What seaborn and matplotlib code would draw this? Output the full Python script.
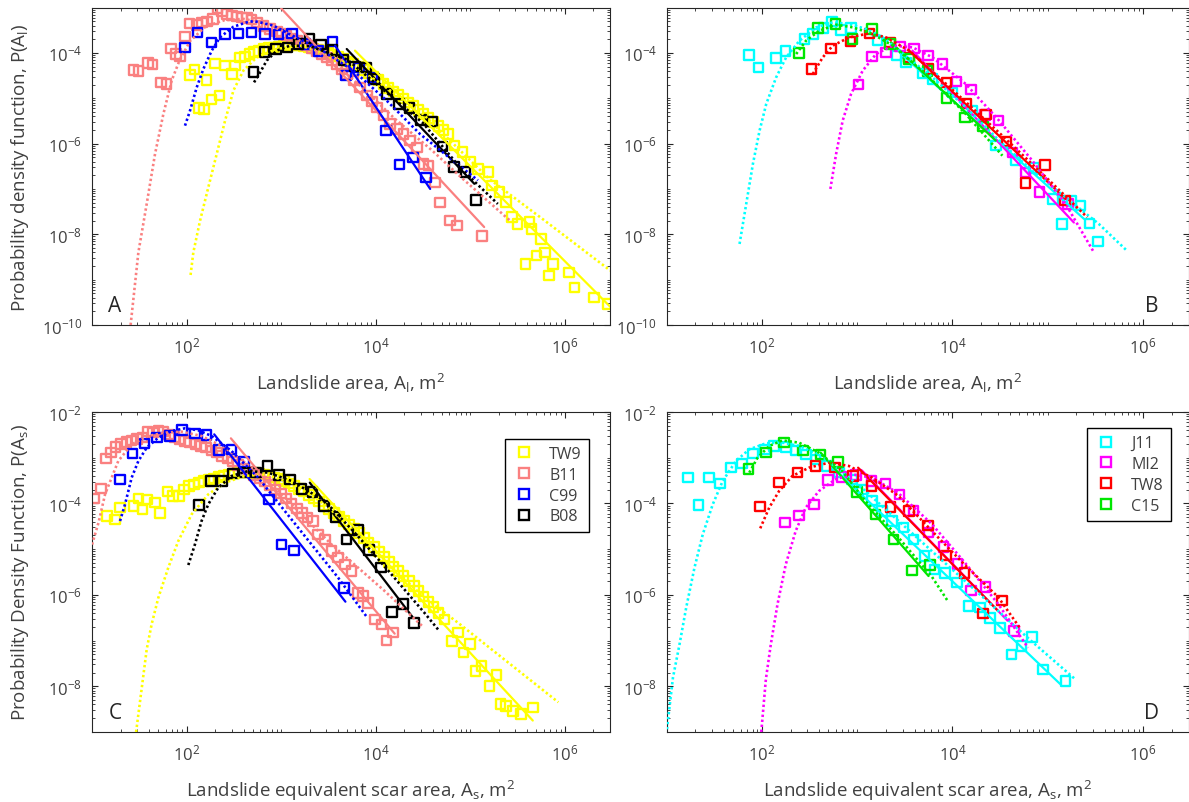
import numpy as np
import matplotlib
matplotlib.use("Agg")
import matplotlib.pyplot as plt
import seaborn as sns
from matplotlib.lines import Line2D
from matplotlib.ticker import FixedLocator, LogLocator, LogFormatterSciNotation, NullFormatter

# All values are log10(area) / log10(pdf) pairs.

# ---- Panel A : landslide area, first set ----
A_TW9 = [(2.036, -4.488), (2.082, -4.370), (2.131, -5.215), (2.184, -5.245), (2.212, -4.598), (2.265, -5.032),
         (2.301, -4.231), (2.347, -4.944), (2.406, -4.282), (2.477, -4.466), (2.512, -4.282), (2.565, -4.099),
         (2.618, -4.084), (2.664, -4.025), (2.713, -3.974), (2.762, -3.952), (2.812, -3.915), (2.865, -3.893),
         (2.918, -3.878), (2.970, -3.863), (3.023, -3.849), (3.076, -3.841), (3.129, -3.841), (3.182, -3.841),
         (3.235, -3.856), (3.288, -3.878), (3.341, -3.900), (3.393, -3.930), (3.446, -3.959), (3.499, -3.996),
         (3.552, -4.040), (3.605, -4.084), (3.658, -4.135), (3.711, -4.187), (3.763, -4.246), (3.816, -4.304),
         (3.869, -4.378), (3.922, -4.451), (3.975, -4.525), (4.028, -4.598), (4.081, -4.686), (4.134, -4.775),
         (4.186, -4.848), (4.239, -4.922), (4.292, -5.010), (4.345, -5.091), (4.398, -5.171), (4.451, -5.260),
         (4.504, -5.348), (4.556, -5.436), (4.609, -5.524), (4.662, -5.612), (4.715, -5.700), (4.768, -5.789),
         (4.833, -6.040), (4.917, -6.187), (5.000, -6.410), (5.083, -6.555), (5.190, -6.630), (5.230, -6.920),
         (5.310, -7.070), (5.375, -7.290), (5.440, -7.620), (5.500, -7.770), (5.583, -8.650), (5.625, -7.730),
         (5.646, -7.880), (5.700, -8.470), (5.750, -8.100), (5.790, -8.400), (5.833, -8.910), (5.875, -8.650),
         (6.040, -8.840), (6.100, -9.170), (6.310, -9.390), (6.458, -9.540)]
A_B11 = [(1.437, -4.378), (1.490, -4.393), (1.589, -4.224), (1.641, -4.260), (1.730, -4.650), (1.789, -4.686),
         (1.832, -3.900), (1.888, -4.025), (1.930, -4.084), (1.983, -3.636), (2.029, -3.349), (2.107, -3.379),
         (2.160, -3.330), (2.213, -3.305), (2.276, -3.254), (2.325, -3.011), (2.371, -3.085), (2.424, -3.143),
         (2.477, -3.180), (2.530, -3.202), (2.583, -3.217), (2.636, -3.232), (2.688, -3.268), (2.741, -3.327),
         (2.812, -3.401), (2.882, -3.474), (2.953, -3.526), (3.005, -3.570), (3.058, -3.621), (3.111, -3.680),
         (3.164, -3.731), (3.217, -3.790), (3.270, -3.841), (3.323, -3.900), (3.376, -3.952), (3.429, -4.020),
         (3.481, -4.099), (3.534, -4.170), (3.587, -4.246), (3.640, -4.350), (3.693, -4.466), (3.763, -4.613),
         (3.834, -4.760), (3.905, -4.944), (3.960, -5.070), (4.010, -5.201), (4.081, -5.384), (4.151, -5.568),
         (4.222, -5.678), (4.292, -5.789), (4.363, -5.935), (4.433, -6.083), (4.504, -6.450), (4.556, -6.487),
         (4.627, -6.854), (4.680, -7.295), (4.786, -7.699), (4.856, -7.809), (5.125, -8.040)]
A_C99 = [(1.983, -3.878), (2.117, -3.548), (2.265, -3.768), (2.406, -3.584), (2.547, -3.570), (2.688, -3.548),
         (2.829, -3.584), (2.970, -3.599), (3.111, -3.570), (3.252, -3.805), (3.393, -3.952), (3.541, -3.746),
         (3.682, -4.503), (3.823, -4.319), (3.964, -4.540), (4.105, -5.715), (4.250, -6.464), (4.391, -6.303),
         (4.532, -6.744)]
A_B08 = [(2.706, -4.415), (2.822, -3.974), (2.946, -3.915), (3.066, -3.878), (3.182, -3.805), (3.298, -3.680),
         (3.418, -3.819), (3.541, -3.937), (3.658, -4.157), (3.781, -4.304), (3.897, -4.319), (3.982, -4.576),
         (4.116, -4.907), (4.246, -5.127), (4.356, -5.215), (4.475, -5.480), (4.592, -5.509), (4.705, -6.068),
         (4.828, -6.523), (4.950, -6.630), (5.060, -7.240)]
A_TW9_fit = [(3.78, -3.95), (6.48, -9.60)]
A_B11_fit = [(3.00, -3.02), (5.146, -7.84)]
A_C99_fit = [(3.57, -3.84), (4.575, -7.00)]
A_B08_fit = [(3.693, -3.915), (5.042, -6.887)]
A_TW9_model = [(2.042, -8.897), (2.071, -8.40), (2.142, -7.70), (2.23, -6.96), (2.318, -6.23), (2.406, -5.50),
               (2.495, -4.83), (2.60, -4.39), (2.74, -4.10), (2.95, -3.915), (3.20, -3.84), (3.5, -4.02),
               (4.0, -4.6), (4.5, -5.35), (5.2, -6.78), (5.8, -7.72), (6.48, -8.8)]
A_B11_model = [(1.408, -10.0), (1.49, -8.4), (1.578, -7.33), (1.666, -6.23), (1.754, -5.35), (1.842, -4.61),
               (1.93, -4.14), (2.04, -3.73), (2.2, -3.42), (2.4, -3.28), (2.6, -3.25), (2.8, -3.33), (3.0, -3.5),
               (3.3, -3.85), (3.6, -4.3), (3.9, -4.85), (4.2, -5.45), (4.6, -6.16), (4.9, -6.74), (5.42, -7.70)]
A_C99_model = [(1.983, -5.605), (2.036, -5.274), (2.107, -4.76), (2.177, -4.356), (2.265, -3.952), (2.353, -3.658),
               (2.495, -3.423), (2.636, -3.327), (2.708, -3.30), (2.777, -3.327), (2.918, -3.40), (3.1, -3.6),
               (3.41, -3.915), (3.763, -4.39), (4.116, -5.054), (4.468, -5.79), (4.82, -6.38), (5.08, -6.81)]
A_B08_model = [(2.713, -4.65), (2.777, -4.43), (2.847, -4.17), (2.953, -3.95), (3.094, -3.84), (3.3, -3.85),
               (3.7, -4.15), (4.1, -4.85), (4.5, -5.55), (4.9, -6.55), (5.29, -7.33)]

# ---- Panel B : landslide area, second set ----
B_J11 = [(1.864, -4.047), (1.965, -4.319), (2.150, -4.113), (2.248, -3.952), (2.447, -3.694), (2.534, -3.584),
         (2.646, -3.452), (2.737, -3.305), (2.831, -3.496), (2.936, -3.452), (3.215, -3.731), (3.414, -4.062),
         (3.512, -4.209), (3.693, -4.451), (3.791, -4.576), (4.000, -4.870), (4.210, -5.274), (4.454, -6.046),
         (4.663, -6.362), (4.855, -6.538), (5.054, -7.221), (5.152, -7.772), (5.250, -7.258), (5.344, -7.368),
         (5.438, -7.758), (5.526, -8.155)]
B_MI2 = [(3.013, -4.701), (3.156, -4.077), (3.302, -3.988), (3.452, -3.856), (3.599, -3.900), (3.746, -4.062),
         (3.896, -4.246), (4.042, -4.635), (4.192, -4.811), (4.339, -5.370), (4.482, -5.495), (4.629, -6.193),
         (4.768, -6.634), (4.915, -7.074), (5.211, -7.332)]
B_TW8 = [(2.520, -4.356), (2.726, -3.900), (2.929, -3.753), (3.128, -3.570), (3.344, -3.768), (3.547, -4.099),
         (3.749, -4.356), (3.938, -4.650), (4.147, -5.113), (4.349, -5.362), (4.566, -5.950), (4.768, -6.869),
         (4.971, -6.472), (5.180, -7.258)]
B_C15 = [(2.388, -4.003), (2.587, -3.452), (2.772, -3.364), (2.953, -3.694), (3.156, -3.474), (3.344, -3.805),
         (3.547, -4.135), (3.738, -4.393), (3.938, -4.995), (4.133, -5.421), (4.322, -5.627)]
B_J11_fit = [(3.45, -4.00), (5.38, -7.66)]
B_MI2_fit = [(3.58, -3.95), (5.274, -7.74)]
B_TW8_fit = [(3.547, -3.952), (5.187, -7.221)]
B_C15_fit = [(3.355, -3.768), (4.454, -5.935)]
B_J11_model = [(1.766, -8.213), (1.836, -7.33), (1.906, -6.45), (1.976, -5.715), (2.046, -5.127), (2.15, -4.54),
               (2.255, -4.099), (2.395, -3.731), (2.57, -3.437), (2.744, -3.327), (2.918, -3.364), (3.093, -3.474),
               (3.267, -3.658), (3.442, -3.952), (3.79, -4.54), (4.14, -5.2), (4.49, -5.935), (4.838, -6.6),
               (5.187, -7.184), (5.536, -7.772), (5.83, -8.36)]
B_MI2_model = [(2.719, -7.0), (2.779, -6.23), (2.848, -5.495), (2.936, -4.907), (3.058, -4.393), (3.198, -4.025),
               (3.372, -3.84), (3.581, -3.878), (3.79, -4.099), (4.14, -4.687), (4.49, -5.495), (4.838, -6.376),
               (5.187, -7.33), (5.484, -8.397)]
B_TW8_model = [(2.534, -4.466), (2.639, -4.099), (2.744, -3.84), (2.918, -3.658), (3.128, -3.57), (3.302, -3.658),
               (3.547, -3.952), (3.9, -4.62), (4.5, -5.78), (5.0, -6.78), (5.414, -7.625)]
B_C15_model = [(2.36, -4.025), (2.464, -3.731), (2.604, -3.51), (2.78, -3.379), (2.953, -3.437), (3.163, -3.584),
               (3.372, -3.84), (3.721, -4.466), (4.14, -5.348), (4.524, -6.266)]

# ---- Panel C : equivalent scar area, first set ----
C_TW9 = [(1.155, -4.276), (1.243, -4.349), (1.296, -4.093), (1.437, -4.057), (1.490, -3.889), (1.532, -4.130),
         (1.578, -3.911), (1.666, -3.984), (1.718, -4.203), (1.799, -3.743), (1.859, -3.838), (1.919, -3.838),
         (1.975, -3.692), (2.025, -3.619), (2.078, -3.583), (2.130, -3.546), (2.183, -3.510), (2.236, -3.481),
         (2.289, -3.451), (2.341, -3.422), (2.394, -3.393), (2.447, -3.364), (2.500, -3.342), (2.553, -3.327),
         (2.605, -3.320), (2.658, -3.320), (2.711, -3.335), (2.764, -3.349), (2.817, -3.371), (2.869, -3.400),
         (2.922, -3.430), (2.975, -3.466), (3.028, -3.510), (3.081, -3.561), (3.133, -3.619), (3.186, -3.678),
         (3.239, -3.743), (3.292, -3.816), (3.345, -3.889), (3.398, -3.962), (3.450, -4.042), (3.503, -4.122),
         (3.556, -4.203), (3.609, -4.290), (3.661, -4.378), (3.714, -4.465), (3.767, -4.553), (3.820, -4.648),
         (3.873, -4.750), (3.925, -4.852), (3.978, -4.954), (4.031, -5.056), (4.084, -5.165), (4.137, -5.275),
         (4.189, -5.377), (4.242, -5.479), (4.295, -5.589), (4.348, -5.698), (4.401, -5.807), (4.453, -5.917),
         (4.506, -6.033), (4.559, -6.150), (4.612, -6.267), (4.665, -6.391), (4.728, -6.537), (4.805, -7.004),
         (4.867, -6.820), (4.929, -7.258), (4.993, -7.077), (5.055, -7.660), (5.117, -7.551), (5.201, -7.989),
         (5.276, -7.755), (5.318, -8.390), (5.376, -8.427), (5.451, -8.536), (5.534, -8.608), (5.660, -8.462)]
C_B11 = [(1.025, -3.889), (1.095, -3.670), (1.145, -3.014), (1.201, -2.890), (1.250, -2.766), (1.307, -2.707),
         (1.363, -2.656), (1.419, -2.620), (1.476, -2.591), (1.532, -2.561), (1.588, -2.430), (1.645, -2.452),
         (1.701, -2.401), (1.757, -2.430), (1.813, -2.489), (1.870, -2.547), (1.926, -2.598), (1.982, -2.634),
         (2.039, -2.671), (2.095, -2.707), (2.151, -2.744), (2.208, -2.780), (2.264, -2.839), (2.320, -2.890),
         (2.377, -2.963), (2.433, -3.021), (2.489, -3.087), (2.546, -3.160), (2.602, -3.233), (2.658, -3.306),
         (2.715, -3.378), (2.771, -3.451), (2.827, -3.524), (2.884, -3.597), (2.940, -3.692), (2.996, -3.787),
         (3.053, -3.889), (3.109, -4.006), (3.165, -4.108), (3.222, -4.203), (3.278, -4.312), (3.334, -4.385),
         (3.390, -4.677), (3.461, -4.786), (3.531, -5.041), (3.602, -5.187), (3.672, -5.333), (3.742, -5.479),
         (3.813, -5.953), (3.866, -6.026), (3.918, -6.172), (3.989, -6.537), (4.059, -6.646), (4.112, -6.996),
         (4.182, -6.828)]
C_C99 = [(1.296, -3.473), (1.426, -2.912), (1.553, -2.693), (1.687, -2.561), (1.824, -2.525), (1.954, -2.394),
         (2.088, -2.474), (2.211, -2.503), (2.345, -2.831), (2.475, -2.817), (2.605, -3.094), (2.873, -3.911),
         (3.003, -4.896), (3.133, -5.027), (3.665, -5.844)]
C_B08 = [(2.134, -4.035), (2.257, -3.510), (2.377, -3.510), (2.493, -3.349), (2.609, -3.327), (2.732, -3.327),
         (2.855, -3.181), (2.979, -3.378), (3.095, -3.473), (3.214, -3.678), (3.330, -3.750), (3.450, -4.057),
         (3.573, -4.298), (3.690, -4.786), (3.813, -4.582), (3.929, -5.020), (4.052, -5.406), (4.172, -6.369),
         (4.288, -6.194), (4.404, -6.610)]
C_TW9_fit = [(3.30, -3.466), (5.66, -8.75)]
C_B11_fit = [(2.468, -2.576), (4.20, -6.85)]
C_C99_fit = [(2.292, -2.489), (3.679, -6.150)]
C_B08_fit = [(3.302, -3.546), (4.394, -6.50)]
C_TW9_model = [(1.466, -9.0), (1.578, -7.193), (1.63, -6.646), (1.701, -6.063), (1.806, -5.406), (1.912, -4.823),
               (2.053, -4.239), (2.229, -3.802), (2.405, -3.546), (2.616, -3.400), (2.827, -3.364), (3.109, -3.546),
               (3.461, -4.02), (3.813, -4.677), (4.165, -5.406), (4.517, -6.063), (4.869, -6.61), (5.93, -8.35)]
C_B11_model = [(1.0, -4.9), (1.07, -4.41), (1.138, -3.80), (1.278, -3.07), (1.42, -2.707), (1.595, -2.525),
               (1.77, -2.452), (1.947, -2.43), (2.158, -2.525), (2.405, -2.78), (2.687, -3.218), (2.968, -3.729),
               (3.25, -4.312), (3.531, -4.896), (3.813, -5.406), (4.094, -5.917), (4.5, -6.7)]
C_C99_model = [(1.296, -4.385), (1.349, -4.02), (1.419, -3.437), (1.49, -3.072), (1.578, -2.78), (1.701, -2.561),
               (1.842, -2.416), (1.982, -2.357), (2.123, -2.401), (2.264, -2.525), (2.475, -2.853), (2.757, -3.437),
               (3.038, -4.166), (3.32, -4.896), (3.602, -5.625), (3.911, -6.50)]
C_B08_model = [(2.018, -5.348), (2.088, -4.896), (2.158, -4.385), (2.229, -4.02), (2.334, -3.656), (2.475, -3.400),
               (2.651, -3.291), (2.862, -3.327), (3.109, -3.51), (3.461, -3.947), (3.813, -4.72), (4.165, -5.55),
               (4.517, -6.40), (4.658, -6.756)]

# ---- Panel D : equivalent scar area, second set ----
D_J11 = [(1.223, -3.437), (1.335, -4.035), (1.443, -3.437), (1.561, -3.561), (1.676, -3.218), (1.791, -3.130),
         (1.910, -2.912), (2.035, -2.817), (2.129, -2.744), (2.251, -2.766), (2.355, -2.839), (2.460, -2.926),
         (2.564, -3.036), (2.686, -3.181), (2.808, -3.327), (2.947, -3.473), (3.052, -3.692), (3.156, -3.933),
         (3.261, -4.166), (3.365, -4.385), (3.487, -4.531), (3.592, -4.786), (3.707, -5.151), (3.811, -5.443),
         (3.923, -5.516), (4.045, -5.734), (4.167, -6.245), (4.288, -6.281), (4.393, -6.500), (4.497, -6.719),
         (4.619, -7.302), (4.724, -7.120), (4.835, -6.923), (4.950, -7.631), (5.187, -7.879)]
D_MI2 = [(2.244, -4.421), (2.390, -4.261), (2.547, -4.020), (2.693, -3.488), (2.836, -3.422), (2.989, -3.378),
         (3.149, -3.510), (3.296, -3.568), (3.446, -3.802), (3.592, -4.152), (3.749, -4.640), (3.905, -4.954),
         (4.052, -5.319), (4.194, -5.902), (4.348, -5.822), (4.647, -6.792)]
D_TW8 = [(1.983, -4.071), (2.181, -3.546), (2.373, -3.327), (2.564, -3.181), (2.766, -3.218), (2.954, -3.400),
         (3.149, -3.619), (3.348, -4.079), (3.546, -4.166), (3.742, -4.480), (3.930, -5.136), (4.125, -5.516),
         (4.323, -6.405), (4.522, -6.121)]
D_C15 = [(1.861, -3.254), (2.042, -2.890), (2.233, -2.671), (2.432, -2.839), (2.617, -2.926), (2.801, -3.094),
         (3.000, -3.750), (3.191, -4.239), (3.383, -4.786), (3.574, -5.465), (3.766, -5.348)]
D_J11_fit = [(2.74, -3.20), (5.13, -7.95)]
D_MI2_fit = [(3.05, -3.28), (4.579, -6.567)]
D_TW8_fit = [(3.01, -3.218), (4.48, -6.354)]
D_C15_fit = [(2.617, -2.89), (3.749, -5.589)]
D_J11_model = [(1.004, -8.94), (1.067, -7.813), (1.136, -7.084), (1.206, -6.281), (1.293, -5.406), (1.38, -4.677),
               (1.485, -4.02), (1.589, -3.51), (1.728, -3.072), (1.868, -2.817), (2.042, -2.686), (2.216, -2.671),
               (2.39, -2.744), (2.599, -2.926), (2.808, -3.254), (3.087, -3.729), (3.435, -4.385), (3.783, -5.042),
               (4.132, -5.698), (4.48, -6.354), (4.828, -7.011), (5.285, -7.84)]
D_MI2_model = [(1.994, -9.0), (2.042, -7.85), (2.094, -7.084), (2.164, -6.209), (2.251, -5.333), (2.355, -4.604),
               (2.46, -4.093), (2.599, -3.729), (2.773, -3.473), (2.947, -3.364), (3.156, -3.437), (3.435, -3.78),
               (3.783, -4.45), (4.132, -5.3), (4.48, -6.2), (4.793, -7.157)]
D_TW8_model = [(1.983, -4.545), (2.077, -4.093), (2.181, -3.729), (2.32, -3.400), (2.495, -3.218), (2.704, -3.108),
               (2.913, -3.181), (3.156, -3.437), (3.435, -3.838), (3.783, -4.6), (4.132, -5.35), (4.48, -6.05),
               (4.706, -6.72)]
D_C15_model = [(1.868, -3.327), (1.955, -3.0), (2.077, -2.744), (2.216, -2.62), (2.39, -2.671), (2.599, -2.890),
               (2.843, -3.291), (3.087, -3.95), (3.435, -4.75), (3.783, -5.6), (3.951, -6.136)]

# colours of the eight inventories
COLORS = {"TW9": "#FFFF00", "B11": "#FA8080", "C99": "#0000FF", "B08": "#000000",
          "J11": "#00FFFF", "MI2": "#FF00FF", "TW8": "#FF0000", "C15": "#00E600"}

panels = [
    ("A", ["TW9", "B11", "C99", "B08"],
     [A_TW9, A_B11, A_C99, A_B08], [A_TW9_fit, A_B11_fit, A_C99_fit, A_B08_fit],
     [A_TW9_model, A_B11_model, A_C99_model, A_B08_model]),
    ("B", ["J11", "MI2", "TW8", "C15"],
     [B_J11, B_MI2, B_TW8, B_C15], [B_J11_fit, B_MI2_fit, B_TW8_fit, B_C15_fit],
     [B_J11_model, B_MI2_model, B_TW8_model, B_C15_model]),
    ("C", ["TW9", "B11", "C99", "B08"],
     [C_TW9, C_B11, C_C99, C_B08], [C_TW9_fit, C_B11_fit, C_C99_fit, C_B08_fit],
     [C_TW9_model, C_B11_model, C_C99_model, C_B08_model]),
    ("D", ["J11", "MI2", "TW8", "C15"],
     [D_J11, D_MI2, D_TW8, D_C15], [D_J11_fit, D_MI2_fit, D_TW8_fit, D_C15_fit],
     [D_J11_model, D_MI2_model, D_TW8_model, D_C15_model]),
]

sns.set_style("ticks")
plt.rcParams["font.family"] = ["Open Sans", "DejaVu Sans"]
plt.rcParams["mathtext.fontset"] = "custom"
plt.rcParams["mathtext.rm"] = "Open Sans"
plt.rcParams["mathtext.it"] = "Open Sans"
plt.rcParams["mathtext.bf"] = "Open Sans"
plt.rcParams["axes.unicode_minus"] = False

TEXT = "#404040"
fig = plt.figure(figsize=(11.89, 8.03), dpi=100)

rects = {"A": [0.0774, 0.5940, 0.4357, 0.3954],
         "B": [0.5606, 0.5940, 0.4390, 0.3954],
         "C": [0.0774, 0.0872, 0.4357, 0.3985],
         "D": [0.5606, 0.0872, 0.4390, 0.3985]}

for letter, names, markers, fits, models in panels:
    ax = fig.add_axes(rects[letter])
    ax.set_xscale("log")
    ax.set_yscale("log")
    top_row = letter in ("A", "B")

    for name, pts in zip(names, markers):
        p = np.array(pts)
        c = COLORS[name]
        sns.scatterplot(x=10 ** p[:, 0], y=10 ** p[:, 1], ax=ax, marker="s", s=48,
                        color=c, facecolor="none", edgecolor=c, linewidth=1.7, zorder=2)
    for name, pts in zip(names, fits):
        p = np.array(pts)
        sns.lineplot(x=10 ** p[:, 0], y=10 ** p[:, 1], ax=ax, color=COLORS[name],
                     linewidth=1.6, estimator=None, errorbar=None, zorder=3)
    for name, pts in zip(names, models):
        p = np.array(pts)
        sns.lineplot(x=10 ** p[:, 0], y=10 ** p[:, 1], ax=ax, color=COLORS[name],
                     linewidth=1.9, linestyle=(0, (0.9, 1.0)), estimator=None, errorbar=None, zorder=3)

    ax.set_xlim(10, 3e6)
    if top_row:
        ax.set_ylim(1e-10, 1e-3)
        ax.yaxis.set_major_locator(FixedLocator([1e-10, 1e-8, 1e-6, 1e-4]))
    else:
        ax.set_ylim(1e-9, 1e-2)
        ax.yaxis.set_major_locator(FixedLocator([1e-8, 1e-6, 1e-4, 1e-2]))
    ax.xaxis.set_major_locator(FixedLocator([1e2, 1e4, 1e6]))
    ax.xaxis.set_major_formatter(LogFormatterSciNotation())
    ax.yaxis.set_major_formatter(LogFormatterSciNotation())
    for axis in (ax.xaxis, ax.yaxis):
        axis.set_minor_locator(LogLocator(base=10, subs=np.arange(1, 10), numticks=200))
        axis.set_minor_formatter(NullFormatter())

    ax.tick_params(which="both", direction="in", top=True, right=True, colors="#262626",
                   labelcolor=TEXT, labelsize=12)
    ax.tick_params(which="major", length=4.0, width=0.8)
    ax.tick_params(which="minor", length=2.4, width=0.6)
    ax.tick_params(axis="x", which="major", pad=8)
    ax.tick_params(axis="y", which="major", pad=7)
    for sp in ax.spines.values():
        sp.set_linewidth(0.8)
        sp.set_color("#262626")
        sp.set_visible(True)

    if top_row:
        ax.set_xlabel("Landslide area, A$_\\mathregular{l}$, m$^\\mathregular{2}$", fontsize=13.5, color=TEXT)
    else:
        ax.set_xlabel("Landslide equivalent scar area, A$_\\mathregular{s}$, m$^\\mathregular{2}$",
                      fontsize=13.5, color=TEXT)
    ax.xaxis.set_label_coords(0.5, -0.143)
    if letter == "A":
        ax.set_ylabel("Probability density function, P(A$_\\mathregular{l}$)", fontsize=13.5, color=TEXT)
        ax.yaxis.set_label_coords(-0.118, 0.5)
    elif letter == "C":
        ax.set_ylabel("Probability Density Function, P(A$_\\mathregular{s}$)", fontsize=13.5, color=TEXT)
        ax.yaxis.set_label_coords(-0.118, 0.5)

    lx = 0.044 if letter in ("A", "C") else 0.93
    ax.text(lx, 0.06, letter, transform=ax.transAxes, ha="center", va="center",
            fontsize=15, color="#262626")

    if not top_row:
        handles = [Line2D([], [], ls="none", marker="s", ms=6.9, mfc="none", mew=1.7,
                          mec=COLORS[n]) for n in names]
        anchor = (0.959, 0.916) if letter == "C" else (0.9665, 0.95)
        leg = ax.legend(handles, names, loc="upper right", bbox_to_anchor=anchor,
                        borderaxespad=0, fontsize=11.5, frameon=True, fancybox=False,
                        framealpha=1, edgecolor="black", handlelength=1.5,
                        handletextpad=0.8, labelspacing=0.3, borderpad=0.45)
        leg.get_frame().set_linewidth(1.0)
        for t in leg.get_texts():
            t.set_color(TEXT)

fig.savefig("out.png", dpi=100)
